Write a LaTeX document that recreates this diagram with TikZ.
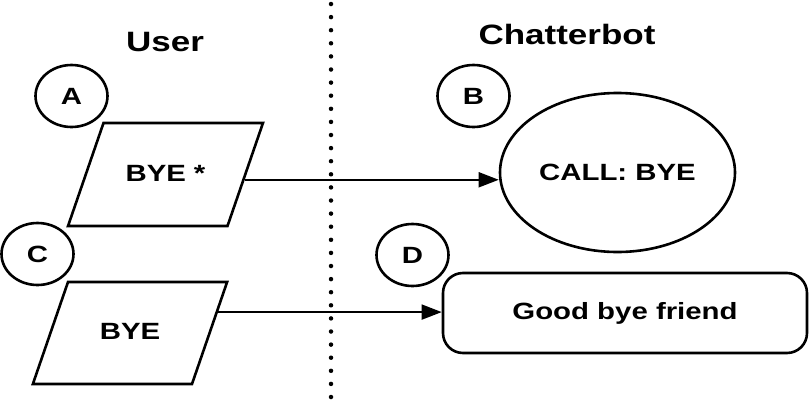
\documentclass[tikz,border=0pt]{standalone}
\usepackage{fontspec}
\setmainfont{Liberation Sans}[FakeStretch=1.25]
\usetikzlibrary{arrows.meta,positioning,shapes.geometric,calc}

\begin{document}
\begin{tikzpicture}[x=1pt, y=-1pt, font=\fontsize{23.5}{27}\selectfont\bfseries, line width=2.6pt,
  heading/.style={font=\fontsize{28}{32}\selectfont\bfseries},
  tag/.style={draw, ellipse, inner sep=0pt, minimum width=72pt, minimum height=62pt},
  inputbox/.style={draw, trapezium, trapezium left angle=71, trapezium right angle=109,
    text width=110pt, align=center, inner xsep=7pt, text height=17pt, text depth=4pt, inner ysep=41pt},
  flow/.style={-{Triangle[length=20pt,width=15pt]}, line width=1.8pt}]
  \useasboundingbox (0,0) rectangle (811,402);

  % columns
  \node[heading] (user) at (165,42) {User};
  \node[heading] (bot) at (567,34) {Chatterbot};
  \coordinate (top) at (331,4);
  \coordinate (bottom) at (331,402);
  \draw[line width=4.5pt, line cap=round, dash pattern=on 0pt off 13.1pt] (top) -- (bottom);

  % first exchange
  \node[tag] (a) at (71.5,96) {A};
  \node[inputbox] (pa) at (165.5,174.5) {BYE *};
  \node[tag] (b) at (473.5,96) {B};
  \node[draw, ellipse, minimum width=235pt, minimum height=159pt] (call) at (617.5,172.5) {CALL: BYE};
  \draw[flow] ($(pa.top right corner)!0.55!(pa.bottom right corner)$) coordinate (pa-out)
    -- (pa-out -| call.west);

  % second exchange
  \node[tag] (c) at (37.5,254) {C};
  \node[inputbox, inner ysep=40.5pt] (pc) at (130,333) {BYE};
  \node[tag] (d) at (412.5,255) {D};
  \node[draw, rounded corners=20pt, minimum width=364pt, minimum height=80pt] (reply) at (625,313) {Good bye friend};
  \draw[flow] ($(pc.top right corner)!0.3!(pc.bottom right corner)$) coordinate (pc-out)
    -- (pc-out -| reply.west);
\end{tikzpicture}
\end{document}
